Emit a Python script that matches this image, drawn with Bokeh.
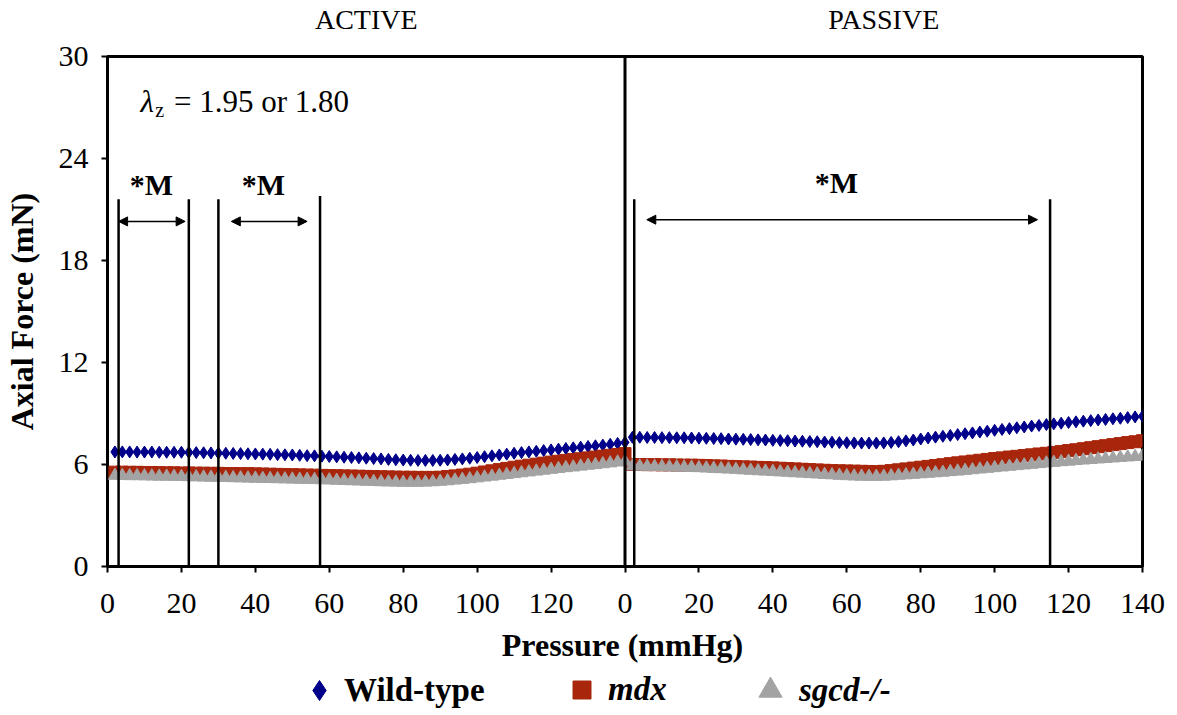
from bokeh.plotting import figure
from bokeh.layouts import column
from bokeh.models import (FixedTicker, LinearAxis, Label, Legend, LegendItem, Span,
                          Arrow, NormalHead, Range1d)
from bokeh.embed import file_html
from bokeh.resources import INLINE

# ---------------- data ----------------
pressure = [2, 4, 6, 8, 10, 12, 14, 16, 18, 20, 22, 24, 26, 28, 30, 32, 34, 36, 38, 40,
            42, 44, 46, 48, 50, 52, 54, 56, 58, 60, 62, 64, 66, 68, 70, 72, 74, 76, 78, 80,
            82, 84, 86, 88, 90, 92, 94, 96, 98, 100, 102, 104, 106, 108, 110, 112, 114, 116, 118, 120,
            122, 124, 126, 128, 130, 132, 134, 136, 138, 140]

active_wt = [6.74, 6.74, 6.74, 6.73, 6.73, 6.73, 6.72, 6.72, 6.72, 6.72,
             6.71, 6.70, 6.69, 6.68, 6.67, 6.66, 6.65, 6.64, 6.63, 6.62,
             6.61, 6.60, 6.58, 6.57, 6.56, 6.54, 6.52, 6.51, 6.49, 6.47,
             6.45, 6.43, 6.41, 6.39, 6.37, 6.35, 6.33, 6.30, 6.28, 6.26,
             6.25, 6.24, 6.24, 6.24, 6.25, 6.27, 6.30, 6.33, 6.37, 6.41,
             6.46, 6.51, 6.56, 6.61, 6.66, 6.70, 6.74, 6.78, 6.82, 6.86,
             6.90, 6.94, 6.98, 7.02, 7.06, 7.10, 7.14, 7.19, 7.24, 7.30]
active_mdx = [5.55, 5.55, 5.54, 5.54, 5.53, 5.53, 5.52, 5.51, 5.51, 5.50,
              5.50, 5.49, 5.49, 5.48, 5.48, 5.47, 5.47, 5.46, 5.46, 5.45,
              5.44, 5.43, 5.42, 5.41, 5.40, 5.39, 5.38, 5.37, 5.36, 5.35,
              5.34, 5.33, 5.32, 5.31, 5.30, 5.29, 5.28, 5.27, 5.26, 5.25,
              5.25, 5.24, 5.24, 5.24, 5.25, 5.29, 5.33, 5.38, 5.43, 5.49,
              5.56, 5.63, 5.70, 5.77, 5.84, 5.90, 5.96, 6.02, 6.08, 6.14,
              6.19, 6.24, 6.29, 6.34, 6.39, 6.44, 6.49, 6.54, 6.59, 6.64]
active_sgcd = [5.35, 5.34, 5.33, 5.33, 5.32, 5.31, 5.30, 5.30, 5.29, 5.28,
               5.27, 5.26, 5.25, 5.24, 5.23, 5.22, 5.21, 5.20, 5.19, 5.18,
               5.17, 5.16, 5.15, 5.14, 5.13, 5.12, 5.11, 5.10, 5.09, 5.08,
               5.06, 5.05, 5.03, 5.02, 5.00, 4.99, 4.97, 4.96, 4.95, 4.94,
               4.94, 4.94, 4.95, 4.97, 5.00, 5.03, 5.07, 5.11, 5.15, 5.20,
               5.25, 5.30, 5.35, 5.40, 5.45, 5.50, 5.55, 5.60, 5.65, 5.70,
               5.75, 5.80, 5.84, 5.89, 5.94, 5.98, 6.03, 6.08, 6.13, 6.18]

passive_wt = [7.60, 7.60, 7.59, 7.59, 7.58, 7.58, 7.57, 7.57, 7.56, 7.55,
              7.54, 7.53, 7.52, 7.50, 7.49, 7.48, 7.47, 7.45, 7.44, 7.42,
              7.41, 7.40, 7.38, 7.37, 7.35, 7.34, 7.32, 7.31, 7.29, 7.28,
              7.27, 7.26, 7.26, 7.26, 7.27, 7.30, 7.34, 7.39, 7.44, 7.50,
              7.56, 7.61, 7.66, 7.71, 7.76, 7.81, 7.86, 7.91, 7.96, 8.01,
              8.06, 8.11, 8.16, 8.21, 8.26, 8.30, 8.35, 8.39, 8.43, 8.47,
              8.51, 8.55, 8.58, 8.62, 8.65, 8.69, 8.72, 8.76, 8.80, 8.84]
passive_mdx = [6.00, 6.00, 5.99, 5.99, 5.98, 5.98, 5.97, 5.96, 5.96, 5.95,
               5.94, 5.92, 5.91, 5.89, 5.88, 5.86, 5.85, 5.83, 5.82, 5.80,
               5.78, 5.76, 5.74, 5.72, 5.70, 5.68, 5.66, 5.64, 5.63, 5.62,
               5.61, 5.60, 5.59, 5.58, 5.60, 5.64, 5.69, 5.74, 5.79, 5.84,
               5.89, 5.94, 5.99, 6.05, 6.10, 6.15, 6.20, 6.25, 6.30, 6.35,
               6.39, 6.44, 6.48, 6.53, 6.57, 6.62, 6.66, 6.71, 6.76, 6.82,
               6.87, 6.93, 6.99, 7.05, 7.11, 7.17, 7.23, 7.29, 7.34, 7.40]
passive_sgcd = [5.90, 5.89, 5.88, 5.87, 5.86, 5.85, 5.84, 5.83, 5.82, 5.80,
                5.78, 5.76, 5.74, 5.72, 5.70, 5.67, 5.65, 5.62, 5.60, 5.58,
                5.55, 5.53, 5.50, 5.48, 5.45, 5.43, 5.40, 5.38, 5.35, 5.33,
                5.31, 5.30, 5.29, 5.29, 5.30, 5.32, 5.35, 5.38, 5.41, 5.44,
                5.47, 5.50, 5.53, 5.57, 5.60, 5.64, 5.68, 5.72, 5.76, 5.80,
                5.84, 5.88, 5.92, 5.96, 6.00, 6.04, 6.08, 6.11, 6.15, 6.18,
                6.22, 6.25, 6.28, 6.31, 6.34, 6.37, 6.40, 6.43, 6.46, 6.49]

panel_titles = ["ACTIVE", "PASSIVE"]
panel_span = 140          # each panel covers 0-140 mmHg
x_tick_values = [0, 20, 40, 60, 80, 100, 120, 140]
y_tick_values = [0, 6, 12, 18, 24, 30]
x_title = "Pressure (mmHg)"
y_title = "Axial Force (mN)"
series_names = ["Wild-type", "mdx", "sgcd-/-"]
series_colors = ["#00008B", "#A8260C", "#A3A3A3"]

# significance brackets (*M)
active_sig_lines = [3, 22, 30, 57.5]
active_sig_tops = [21.6, 21.6, 21.6, 21.8]
passive_sig_lines = [2.5, 115]
passive_sig_tops = [21.6, 21.6]
arrows = [(0, 3.0, 21.0, 20.3), (0, 33.5, 54.0, 20.3), (1, 5.9, 111.6, 20.4)]
sig_labels = [(0, 11.9, 22.5), (0, 42.2, 22.5), (1, 57.2, 22.6)]
stretch_note = "1.95 or 1.80"

FONT = "Liberation Serif"
W = 1177
MAIN_H = 627
FRAME_LEFT = 106

# ---------------- main figure ----------------
p = figure(width=W, height=MAIN_H, x_range=Range1d(0, 2 * panel_span), y_range=Range1d(0, 30),
           output_backend="svg", toolbar_location=None,
           min_border_left=FRAME_LEFT, min_border_right=35, min_border_top=56,
           min_border_bottom=MAIN_H - 566)
p.grid.visible = False
p.outline_line_color = "black"
p.outline_line_width = 3
p.background_fill_color = "white"
p.border_fill_color = "white"

all_x_ticks = x_tick_values + [t + panel_span for t in x_tick_values[1:]]
overrides = {t: str(t) for t in x_tick_values}
overrides[panel_span] = "0"
for t in x_tick_values[1:]:
    overrides[t + panel_span] = str(t)
xa = p.xaxis[0]
xa.ticker = FixedTicker(ticks=all_x_ticks)
xa.major_label_overrides = overrides

ya = p.yaxis[0]
ya.ticker = FixedTicker(ticks=y_tick_values)
ya.axis_label = y_title

for ax in (xa, ya):
    ax.axis_line_color = None
    ax.major_tick_out = 6
    ax.major_tick_in = 0
    ax.major_tick_line_width = 2
    ax.major_tick_line_color = "black"
    ax.minor_tick_line_color = None
    ax.major_label_text_font = FONT
    ax.major_label_text_font_size = "30px"
    ax.major_label_text_color = "black"
    ax.axis_label_text_font = FONT
    ax.axis_label_text_font_size = "32px"
    ax.axis_label_text_font_style = "bold"
    ax.axis_label_text_color = "black"
xa.major_label_standoff = 21
ya.major_label_standoff = 13
ya.axis_label_standoff = 16

top = LinearAxis(ticker=FixedTicker(ticks=[panel_span / 2, panel_span * 1.5]),
                 major_label_overrides={panel_span / 2: panel_titles[0], panel_span * 1.5: panel_titles[1]},
                 axis_line_color=None, major_tick_line_color=None, minor_tick_line_color=None,
                 major_label_text_font=FONT, major_label_text_font_size="28px",
                 major_label_text_color="black", major_label_standoff=16)
p.add_layout(top, "above")

p.add_layout(Span(location=panel_span, dimension="height", line_color="black", line_width=3))

# ---------------- series ----------------
passive_x = [v + panel_span for v in pressure]
markers = ["diamond", "square", "triangle"]
sizes = [12, 12, 13]
series_pairs = [(active_wt, passive_wt), (active_mdx, passive_mdx), (active_sgcd, passive_sgcd)]
for (vals_a, vals_p), mk, sz, col in zip(series_pairs, markers, sizes, series_colors):
    p.scatter(pressure + passive_x, vals_a + vals_p, marker=mk, size=sz,
              fill_color=col, line_color=col)

# ---------------- significance annotations ----------------
seg_x = active_sig_lines + [v + panel_span for v in passive_sig_lines]
seg_top = active_sig_tops + passive_sig_tops
p.segment(x0=seg_x, y0=[0] * len(seg_x), x1=seg_x, y1=seg_top, line_color="black", line_width=2.5)

for panel, x0, x1, yv in arrows:
    off = panel * panel_span
    p.add_layout(Arrow(start=NormalHead(size=9, fill_color="black", line_color="black"),
                       end=NormalHead(size=9, fill_color="black", line_color="black"),
                       x_start=x0 + off, y_start=yv, x_end=x1 + off, y_end=yv,
                       line_color="black", line_width=1.5))

for panel, xv, yv in sig_labels:
    p.add_layout(Label(x=xv + panel * panel_span, y=yv, text="*M", text_align="center",
                       text_baseline="alphabetic", text_font=FONT, text_font_size="30px",
                       text_font_style="bold", text_color="black"))

p.add_layout(Label(x=8.9, y=27.35, text="λ", text_font=FONT, text_font_size="31px",
                   text_font_style="italic", text_baseline="alphabetic", text_color="black"))
p.add_layout(Label(x=12.9, y=26.85, text="z", text_font=FONT, text_font_size="20px",
                   text_baseline="alphabetic", text_color="black"))
p.add_layout(Label(x=18.0, y=27.35, text="= " + stretch_note, text_font=FONT, text_font_size="31px",
                   text_baseline="alphabetic", text_color="black"))

# ---------------- x title + legend strip ----------------
LEG_H = 715 - MAIN_H
q = figure(width=W, height=LEG_H, x_range=Range1d(0, 1), y_range=Range1d(0, 1),
           output_backend="svg", toolbar_location=None,
           min_border_left=0, min_border_right=0, min_border_top=0, min_border_bottom=0)
q.axis.visible = False
q.grid.visible = False
q.outline_line_color = None
q.background_fill_color = "white"
q.border_fill_color = "white"

# the column aligns this strip's frame with the main frame (left edge at FRAME_LEFT)
q.add_layout(Label(x=621 - FRAME_LEFT, y=LEG_H - 17, x_units="screen", y_units="screen", text=x_title,
                   text_align="center", text_baseline="middle", text_font=FONT,
                   text_font_size="32px", text_font_style="bold", text_color="black"))

# legend keys: one point of each series, outside this strip's ranges (only the key is shown)
leg_renderers = [q.scatter(x=[pressure[0]], y=[vals[0][0]], marker=mk, fill_color=col, line_color=col)
                 for vals, mk, col in zip(series_pairs, markers, series_colors)]
# (key box size, label standoff, x position of the key box on the page, style)
legend_specs = [(50, 0, 293, "bold"), (45, 4, 558, "bold italic"), (58, 0, 740, "bold italic")]
for name, r, (box, stand, px, style) in zip(series_names, leg_renderers, legend_specs):
    lg = Legend(items=[LegendItem(label=name, renderers=[r])], location=(px - FRAME_LEFT, 25 - box // 2),
                orientation="horizontal", glyph_width=box, glyph_height=box, label_standoff=stand,
                padding=0, margin=0, spacing=0, border_line_alpha=0, background_fill_alpha=0,
                label_text_font=FONT, label_text_font_size="33px", label_text_font_style=style,
                label_text_color="black")
    q.add_layout(lg, "center")

layout = column(p, q, spacing=0)
open("out.html", "w").write(file_html(layout, INLINE))
